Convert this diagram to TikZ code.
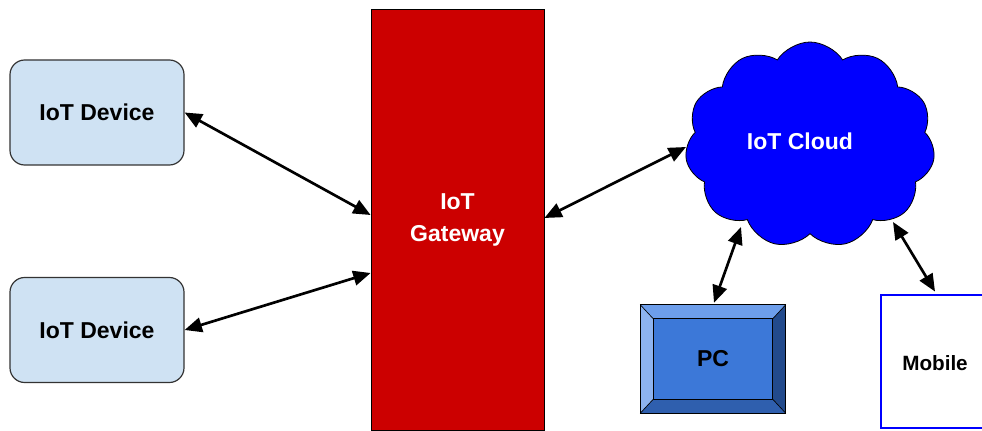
\documentclass[tikz,border=0pt]{standalone}
\usepackage{fontspec}
\setmainfont{Liberation Sans}
\usetikzlibrary{arrows.meta,shapes.symbols,calc}
\definecolor{devfill}{HTML}{CFE2F3}
\definecolor{devline}{HTML}{333333}
\definecolor{gwred}{HTML}{CC0000}
\definecolor{cloudblue}{HTML}{0000FF}
\definecolor{pcmid}{HTML}{3C78D8}
\definecolor{pctop}{HTML}{6D9EEB}
\definecolor{pcleft}{HTML}{8DB3F0}
\definecolor{pcright}{HTML}{224A8C}
\definecolor{pcbottom}{HTML}{2F5FAE}
\begin{document}
\begin{tikzpicture}[x=0.75pt,y=-0.75pt,
  lbl/.style={font=\fontsize{17.25}{24}\selectfont\bfseries, align=center},
  device/.style={lbl, draw=devline, line width=0.9pt, fill=devfill, rounded corners=11pt,
    minimum width=130.5pt, minimum height=78.75pt},
  link/.style={line width=2pt, {Triangle[length=13pt,width=11pt]}-{Triangle[length=13pt,width=11pt]}},
  bevel/.style={draw=black, line width=0.5pt}]
\useasboundingbox (0,0) rectangle (982,431);
\clip (0,0) rectangle (982,431);

% edge devices
\node[device] (dev1) at (97,112.5) {IoT Device};
\node[device] (dev2) at (97,330) {IoT Device};

% gateway
\node[lbl, draw=black, line width=0.6pt, fill=gwred, text=white,
  minimum width=129.75pt, minimum height=315.75pt] (gw) at (457.5,219.5) {IoT\\Gateway};

% cloud
\node[lbl, cloud, cloud puffs=11, cloud puff arc=115, aspect=1.25, draw=black, line width=0.6pt,
  fill=cloudblue, text=white, minimum width=187.5pt, minimum height=154.5pt, inner sep=0pt]
  (cloud) at (810,145) {};
\node[lbl, text=white] (cloudtxt) at (800,141) {IoT Cloud};

% PC drawn as a bevelled box
\node[minimum width=108.75pt, minimum height=81pt, inner sep=0pt] (pc) at (713,359) {};
\coordinate (pi1) at ($(pc.north west)+(13,14)$);
\coordinate (pi2) at ($(pc.north east)+(-13,14)$);
\coordinate (pi3) at ($(pc.south east)+(-13,-14)$);
\coordinate (pi4) at ($(pc.south west)+(13,-14)$);
\fill[pctop] (pc.north west) -- (pc.north east) -- (pi2) -- (pi1) -- cycle;
\fill[pcleft] (pc.north west) -- (pi1) -- (pi4) -- (pc.south west) -- cycle;
\fill[pcright] (pc.north east) -- (pc.south east) -- (pi3) -- (pi2) -- cycle;
\fill[pcbottom] (pc.south west) -- (pi4) -- (pi3) -- (pc.south east) -- cycle;
\fill[pcmid] (pi1) rectangle (pi3);
\draw[bevel] (pc.north west) rectangle (pc.south east);
\draw[bevel] (pi1) rectangle (pi3);
\draw[bevel] (pc.north west) -- (pi1) (pc.north east) -- (pi2)
  (pc.south east) -- (pi3) (pc.south west) -- (pi4);
\node[lbl] (pctxt) at (pc.center) {PC};

% mobile
\node[draw=cloudblue, line width=2.2pt, fill=white,
  minimum width=81pt, minimum height=99.75pt] (mob) at (935,361.5) {};
\node[lbl, font=\fontsize{15.5}{18}\selectfont\bfseries] (mobtxt) at (935,363.5) {Mobile};

% links
\draw[link] (dev1.east) -- ($(gw.west)+(0,-4.5)$);
\draw[link] (dev2.east) -- ($(gw.west)+(0,53.5)$);
\draw[link] ($(gw.east)+(0,-1.5)$) -- ($(cloud.center)+(-124,2)$);
\draw[link] ($(pc.north)+(1,-2)$) -- ($(cloud.center)+(-69,82)$);
\draw[link] ($(mob.north)+(0,-2)$) -- ($(cloud.center)+(83,77)$);
\end{tikzpicture}
\end{document}
